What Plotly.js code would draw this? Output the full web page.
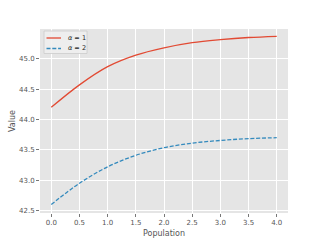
<!DOCTYPE html>
<html>
<head>
<meta charset="utf-8">
<script src="https://cdn.plot.ly/plotly-3.0.1.min.js"></script>
<style>html,body{margin:0;padding:0;background:#fff;}#chart{width:320px;height:240px;}</style>
</head>
<body>
<div id="chart"></div>
<script>
const population = [0.0, 0.5, 1.0, 1.5, 2.0, 2.5, 3.0, 3.5, 4.0];
const valueAlpha1 = [44.20, 44.57, 44.87, 45.06, 45.18, 45.265, 45.315, 45.35, 45.37];
const valueAlpha2 = [42.60, 42.95, 43.22, 43.41, 43.535, 43.61, 43.655, 43.685, 43.70];
const seriesNames = ["<i>α</i> = 1", "<i>α</i> = 2"];
const seriesColors = ['#E24A33', '#348ABD'];
const seriesDash = ['solid', '4px,1.8px'];
const xTicks = [0.0, 0.5, 1.0, 1.5, 2.0, 2.5, 3.0, 3.5, 4.0];
const yTicks = [42.5, 43.0, 43.5, 44.0, 44.5, 45.0];

const series = [valueAlpha1, valueAlpha2];
const traces = series.map((ys, i) => ({
  x: population, y: ys, name: seriesNames[i], mode: 'lines',
  line: {color: seriesColors[i], width: 1.3, dash: seriesDash[i], shape: 'spline', smoothing: 1}
}));

const axisCommon = {
  showgrid: true, gridcolor: '#ffffff', gridwidth: 1,
  zeroline: false, showline: false,
  ticks: 'outside', ticklen: 3, tickcolor: '#555555', tickwidth: 0.8,
  tickfont: {family: 'DejaVu Sans', size: 7, color: '#555555'}
};

// Legend drawn in paper coordinates (plot area 248 x 184 px)
const PW = 248, PH = 184;
const px = v => v / PW, py = v => 1 - v / PH;
const shapes = [
  {type: 'rect', xref: 'paper', yref: 'paper', x0: px(4), x1: px(47), y0: py(24.5), y1: py(2),
   fillcolor: 'rgba(238,238,238,0.9)', line: {color: '#cccccc', width: 0.8}, layer: 'above'}
];
const annotations = [];
const rowY = [9, 19.5];
series.forEach((_, i) => {
  shapes.push({type: 'line', xref: 'paper', yref: 'paper', x0: px(6.5), x1: px(21), y0: py(rowY[i]), y1: py(rowY[i]),
    line: {color: seriesColors[i], width: 1.3, dash: seriesDash[i]}, layer: 'above'});
  annotations.push({xref: 'paper', yref: 'paper', x: px(25.5), y: py(rowY[i]), xanchor: 'left', yanchor: 'middle',
    text: seriesNames[i], showarrow: false, font: {family: 'DejaVu Sans', size: 6.5, color: '#222222'}});
});

const layout = {
  width: 320, height: 240,
  margin: {l: 40, r: 32, t: 29, b: 27, pad: 0},
  paper_bgcolor: '#ffffff', plot_bgcolor: '#E5E5E5',
  showlegend: false,
  shapes: shapes, annotations: annotations,
  xaxis: Object.assign({}, axisCommon, {
    range: [-0.2, 4.2], tickvals: xTicks, ticktext: xTicks.map(v => v.toFixed(1)),
    title: {text: 'Population', font: {family: 'DejaVu Sans', size: 8, color: '#555555'}, standoff: 3}
  }),
  yaxis: Object.assign({}, axisCommon, {
    range: [42.46, 45.49], tickvals: yTicks, ticktext: yTicks.map(v => v.toFixed(1)),
    title: {text: 'Value', font: {family: 'DejaVu Sans', size: 8, color: '#555555'}, standoff: 2}
  })
};

Plotly.newPlot('chart', traces, layout, {staticPlot: true, displayModeBar: false});
</script>
</body>
</html>
